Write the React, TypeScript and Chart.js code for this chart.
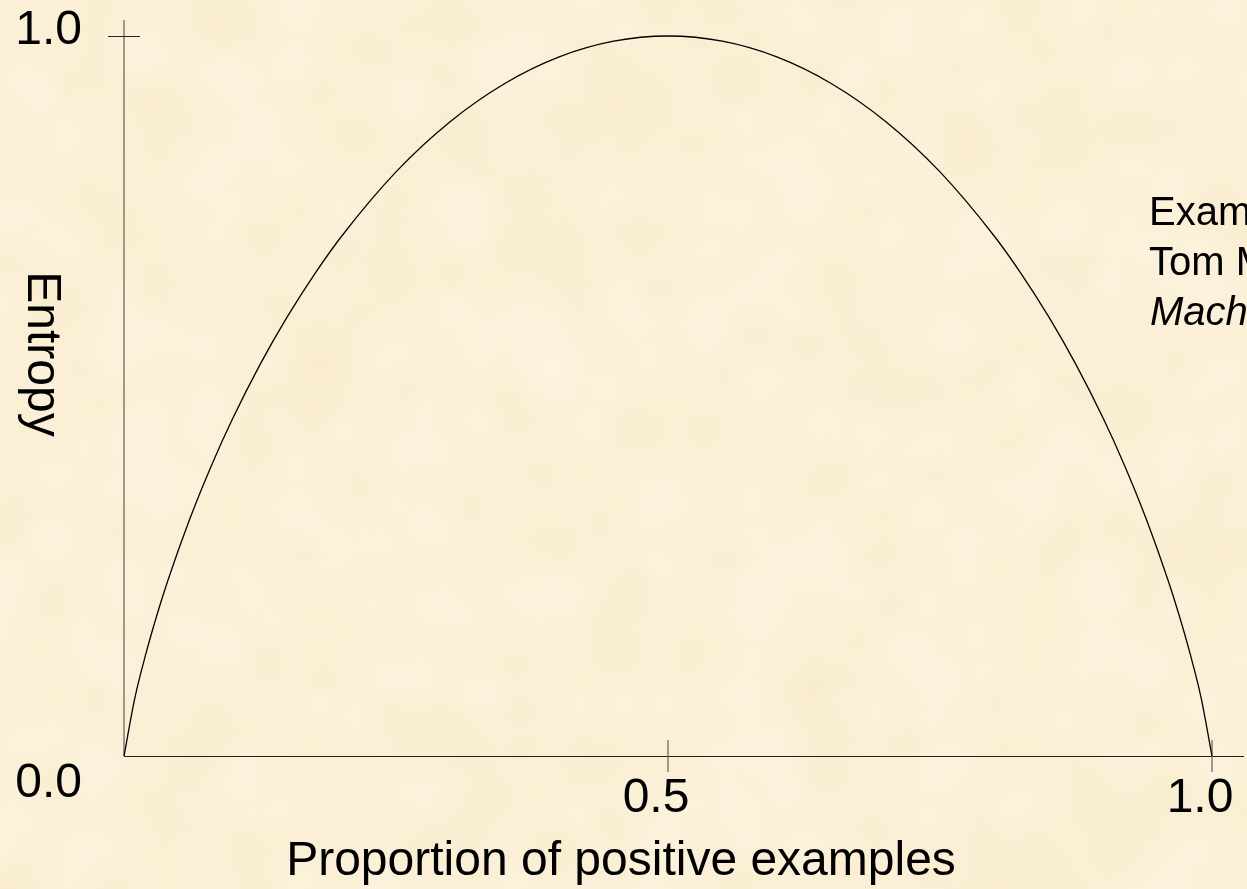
import React, { useEffect, useRef } from "react";
import { Chart, registerables } from "chart.js";

Chart.register(...registerables);

// Proportion of positive examples (p) and the entropy of the split
const proportions = [
  0, 0.01, 0.02, 0.03, 0.04, 0.06, 0.08, 0.1, 0.125, 0.15, 0.175, 0.2, 0.25, 0.3, 0.35, 0.4, 0.45, 0.5,
  0.55, 0.6, 0.65, 0.7, 0.75, 0.8, 0.825, 0.85, 0.875, 0.9, 0.92, 0.94, 0.96, 0.97, 0.98, 0.99, 1,
];
const entropyValues = [
  0, 0.0808, 0.1414, 0.1944, 0.2423, 0.3274, 0.4022, 0.469, 0.5436, 0.6098, 0.669, 0.7219, 0.8113, 0.8813, 0.9341, 0.971, 0.9928, 1,
  0.9928, 0.971, 0.9341, 0.8813, 0.8113, 0.7219, 0.669, 0.6098, 0.5436, 0.469, 0.4022, 0.3274, 0.2423, 0.1944, 0.1414, 0.0808, 0,
];

const xTickValues = [0.5, 1.0];
const xTickLabels = ["0.5", "1.0"];
const yTickValues = [1.0];
const yTickLabels = ["1.0"];
const originLabel = "0.0";

const xTitle = "Proportion of positive examples";
const yTitle = "Entropy";
const noteLines = ["Example from", "Tom Mitchell,", "Machine Learning"];

const FONT = '"Liberation Sans", Arial, Helvetica, sans-serif';

// small deterministic hash for the parchment mottling
function hash(i: number, j: number, k: number) {
  const s = Math.sin(i * 127.1 + j * 311.7 + k * 74.7) * 43758.5453;
  return s - Math.floor(s);
}

function paintParchment(ctx: CanvasRenderingContext2D, w: number, h: number) {
  ctx.fillStyle = "#fbefd6";
  ctx.fillRect(0, 0, w, h);
  const cell = 46;
  for (let j = -1; j * cell < h + cell; j++) {
    for (let i = -1; i * cell < w + cell; i++) {
      const cx = i * cell + hash(i, j, 1) * cell;
      const cy = j * cell + hash(i, j, 2) * cell;
      const r = 20 + hash(i, j, 3) * 34;
      const t = hash(i, j, 4);
      const col =
        t < 0.5 ? "254,247,230" : t < 0.8 ? "247,234,200" : "249,238,204";
      const a = 0.2 + hash(i, j, 5) * 0.25;
      const g = ctx.createRadialGradient(cx, cy, 0, cx, cy, r);
      g.addColorStop(0, `rgba(${col},${a})`);
      g.addColorStop(1, `rgba(${col},0)`);
      ctx.fillStyle = g;
      ctx.fillRect(cx - r, cy - r, r * 2, r * 2);
    }
  }
}

const decorPlugin = {
  id: "entropyDecor",
  beforeDraw(chart: any) {
    const { ctx, width, height } = chart;
    ctx.save();
    paintParchment(ctx, width, height);
    ctx.restore();
  },
  beforeDatasetsDraw(chart: any) {
    const { ctx, scales } = chart;
    const xs = scales.x;
    const ys = scales.y;
    const x0 = Math.round(xs.getPixelForValue(0));
    const y0 = Math.round(ys.getPixelForValue(0));
    const yTop = ys.getPixelForValue(1);
    ctx.save();

    // vertical axis
    ctx.strokeStyle = "#6f6a5e";
    ctx.lineWidth = 1.3;
    ctx.beginPath();
    ctx.moveTo(x0, yTop - 16);
    ctx.lineTo(x0, y0);
    ctx.stroke();

    // horizontal axis
    ctx.strokeStyle = "#1e1e1e";
    ctx.lineWidth = 1.2;
    ctx.beginPath();
    ctx.moveTo(x0, y0 + 0.5);
    ctx.lineTo(chart.width - 3, y0 + 0.5);
    ctx.stroke();

    // y ticks (cross the axis)
    ctx.strokeStyle = "#262626";
    ctx.lineWidth = 1;
    yTickValues.forEach((v) => {
      const py = Math.round(ys.getPixelForValue(v)) + 0.5;
      ctx.beginPath();
      ctx.moveTo(x0 - 16, py);
      ctx.lineTo(x0 + 16, py);
      ctx.stroke();
    });

    // x ticks (cross the axis)
    ctx.strokeStyle = "#6f6a5e";
    ctx.lineWidth = 1.3;
    xTickValues.forEach((v) => {
      const px = xs.getPixelForValue(v);
      ctx.beginPath();
      ctx.moveTo(px, y0 - 16);
      ctx.lineTo(px, y0 + 16);
      ctx.stroke();
    });

    ctx.fillStyle = "#000";
    ctx.font = `48px ${FONT}`;
    ctx.textBaseline = "alphabetic";

    // tick labels
    ctx.textAlign = "right";
    yTickValues.forEach((v, i) => {
      ctx.fillText(yTickLabels[i], x0 - 42, ys.getPixelForValue(v) + 8);
    });
    ctx.fillText(originLabel, x0 - 42, y0 + 41);

    ctx.textAlign = "center";
    xTickValues.forEach((v, i) => {
      ctx.fillText(xTickLabels[i], xs.getPixelForValue(v) - 12, y0 + 56);
    });

    // axis titles
    ctx.fillText(xTitle, (xs.left + xs.right) / 2 - 47, y0 + 119);

    ctx.save();
    ctx.translate(x0 - 96, (yTop + y0) / 2 - 42);
    ctx.rotate(Math.PI / 2);
    ctx.textAlign = "center";
    ctx.fillText(yTitle, 0, 0);
    ctx.restore();

    // note on the right
    ctx.textAlign = "left";
    ctx.font = `40px ${FONT}`;
    ctx.fillText(noteLines[0], 1149, 225);
    ctx.fillText(noteLines[1], 1149, 275);
    ctx.font = `italic 40px ${FONT}`;
    ctx.fillText(noteLines[2], 1150, 325);

    ctx.restore();
  },
};

export default function App() {
  const canvasRef = useRef<HTMLCanvasElement | null>(null);

  useEffect(() => {
    const canvas = canvasRef.current;
    if (!canvas) return;
    const chart = new Chart(canvas, {
      type: "line",
      data: {
        datasets: [
          {
            data: proportions.map((p, i) => ({ x: p, y: entropyValues[i] })),
            borderColor: "#000",
            borderWidth: 1.3,
            pointRadius: 0,
            fill: false,
            cubicInterpolationMode: "monotone",
            clip: false,
          } as any,
        ],
      },
      options: {
        animation: false,
        responsive: false,
        devicePixelRatio: 1,
        layout: { padding: { left: 124, right: 35, top: 36, bottom: 133 } },
        scales: {
          x: { type: "linear", min: 0, max: 1, display: false },
          y: { type: "linear", min: 0, max: 1, display: false },
        },
        plugins: {
          legend: { display: false },
          tooltip: { enabled: false },
        },
      },
      plugins: [decorPlugin],
    });
    return () => chart.destroy();
  }, []);

  return (
    <div style={{ position: "fixed", left: 0, top: 0, width: 1247, height: 889 }}>
      <canvas ref={canvasRef} width={1247} height={889} style={{ display: "block" }} />
    </div>
  );
}
